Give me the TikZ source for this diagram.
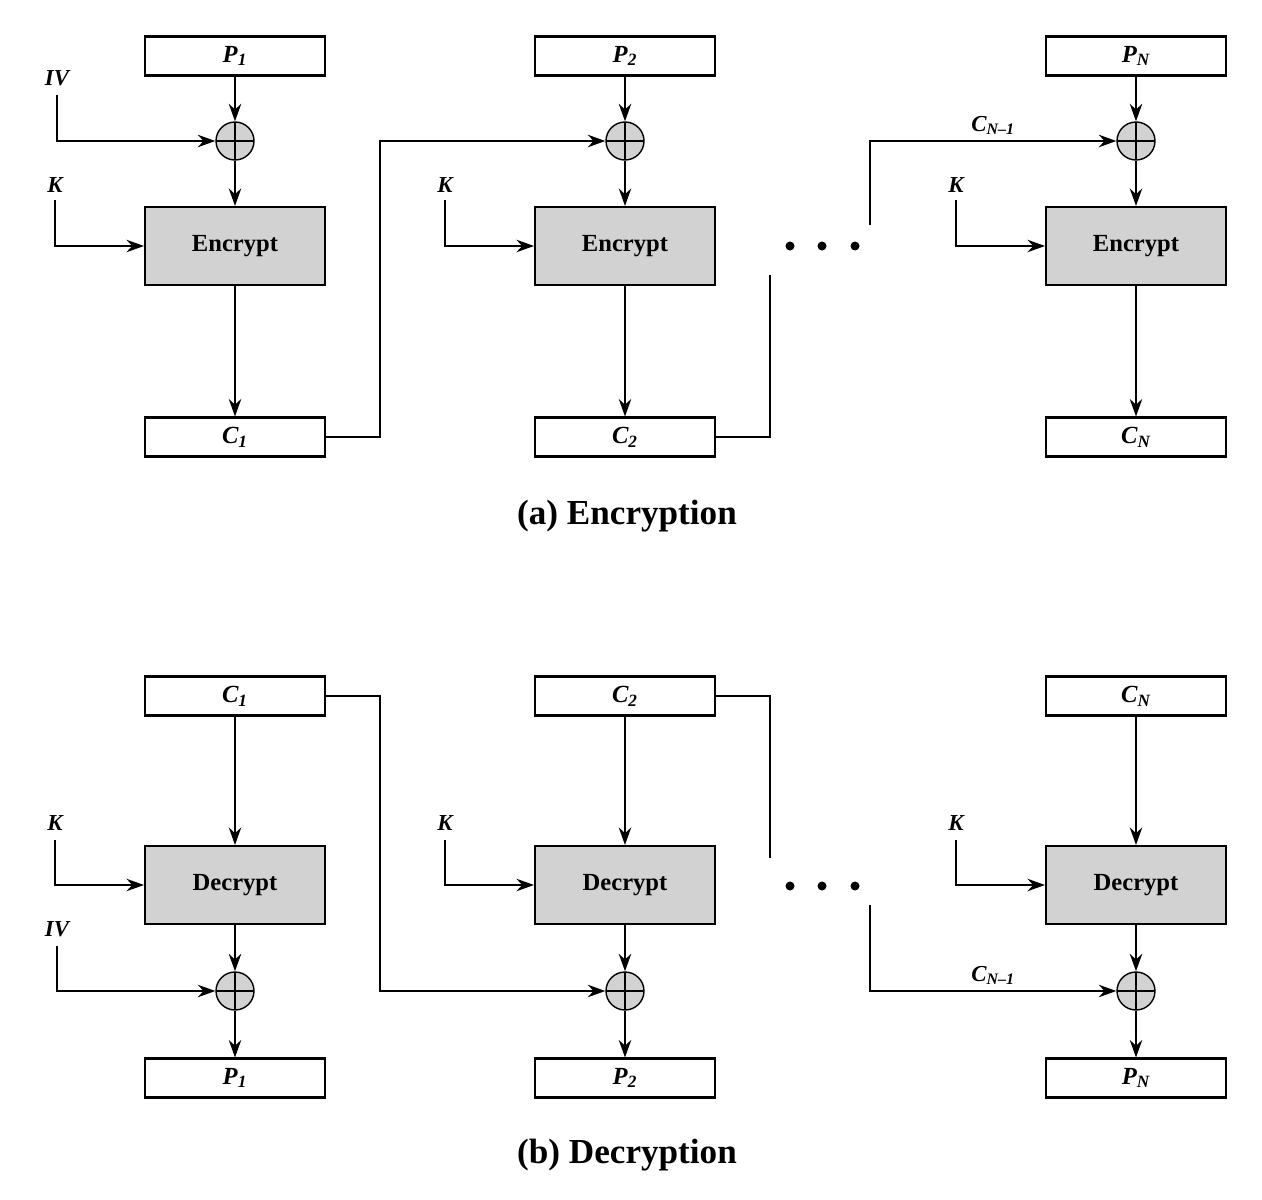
\documentclass[tikz,border=0pt]{standalone}
\usepackage{fontspec}
\setmainfont{Liberation Serif}
\usetikzlibrary{arrows.meta}
\tikzset{
  blk/.style={draw, very thick, minimum width=3.6cm, minimum height=0.78cm, inner sep=0pt, font=\bfseries\itshape\fontsize{14}{14}\selectfont},
  fn/.style={blk, fill=gray!35, minimum height=1.56cm, font=\bfseries\fontsize{14}{14}\selectfont},
  xr/.style={draw, thick, circle, fill=gray!35, minimum size=0.76cm, inner sep=0pt,
    path picture={\draw[thick] (path picture bounding box.north) -- (path picture bounding box.south)
      (path picture bounding box.west) -- (path picture bounding box.east);}},
  lbl/.style={font=\bfseries\itshape\fontsize{13}{13}\selectfont},
  arr/.style={-{Stealth[length=3.5mm,width=2.5mm]}, thick},
  ln/.style={thick}
}
\begin{document}
\begin{tikzpicture}[x=0.02cm, y=-0.02cm]
\useasboundingbox (0,0) rectangle (1262,1200);
% Verschluesselung
\foreach \i/\x/\s in {a/235/1, b/625/2, c/1136/N}{
  \node[blk] (p\i) at (\x,56) {P\textsubscript{\s}};
  \node[xr] (x\i) at (\x,141) {};
  \node[fn] (e\i) at (\x,246) {Encrypt};
  \node[blk] (c\i) at (\x,437) {C\textsubscript{\s}};
  \draw[arr] (p\i) -- (x\i);
  \draw[arr] (x\i) -- (e\i);
  \draw[arr] (e\i) -- (c\i);
  \node[lbl] (k\i) at (\x-180,185) {K};
  \draw[arr] (\x-180,200) |- (e\i.west);
}
\node[lbl] (iv) at (57,78) {IV};
\draw[arr] (iv.south) ++(0,3) |- (xa);
\draw[arr] (ca.east) -| (380,141) -- (xb);
\coordinate (c2e) at (770,275);
\draw[ln] (cb.east) -| (c2e);
\coordinate (cne) at (870,225);
\draw[arr] (cne) |- (xc) node[lbl, pos=0.75, above] {C\textsubscript{N--1}};
\foreach \d in {790,822,855} \fill (\d,246) circle (0.09cm);
\node[font=\bfseries\fontsize{20}{20}\selectfont] (capa) at (627,516) {(a) Encryption};
% Entschluesselung
\foreach \i/\x/\s in {a/235/1, b/625/2, c/1136/N}{
  \node[blk] (cc\i) at (\x,696) {C\textsubscript{\s}};
  \node[fn] (d\i) at (\x,885) {Decrypt};
  \node[xr] (y\i) at (\x,991) {};
  \node[blk] (pp\i) at (\x,1078) {P\textsubscript{\s}};
  \draw[arr] (cc\i) -- (d\i);
  \draw[arr] (d\i) -- (y\i);
  \draw[arr] (y\i) -- (pp\i);
  \node[lbl] (kk\i) at (\x-180,823) {K};
  \draw[arr] (\x-180,840) |- (d\i.west);
}
\node[lbl] (ivd) at (57,929) {IV};
\draw[arr] (ivd.south) ++(0,3) |- (ya);
\draw[arr] (cca.east) -| (380,991) -- (yb);
\coordinate (c2d) at (770,858);
\draw[ln] (ccb.east) -| (c2d);
\coordinate (cnd) at (870,905);
\draw[arr] (cnd) |- (yc) node[lbl, pos=0.75, above] {C\textsubscript{N--1}};
\foreach \d in {790,822,855} \fill (\d,886) circle (0.09cm);
\node[font=\bfseries\fontsize{20}{20}\selectfont] (capb) at (627,1155) {(b) Decryption};
\end{tikzpicture}
\end{document}
